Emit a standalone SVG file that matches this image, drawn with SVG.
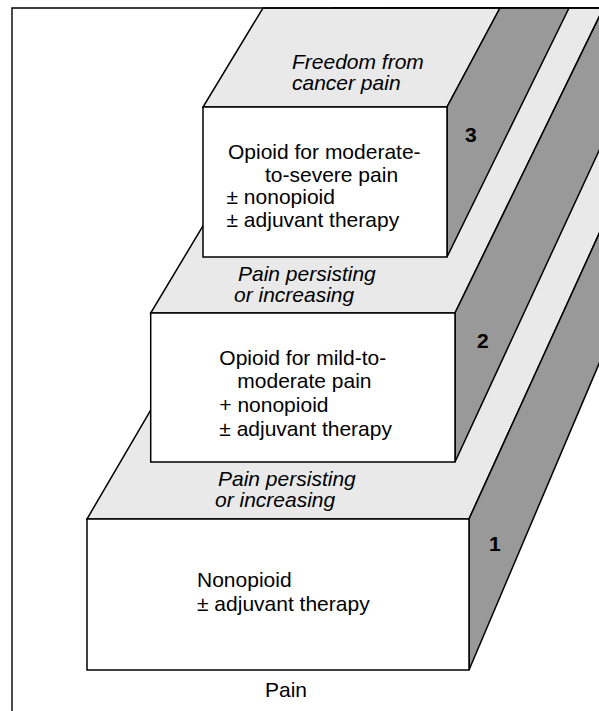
<svg xmlns="http://www.w3.org/2000/svg" width="599" height="711" viewBox="0 0 599 711">
<style>
.top{fill:#e9e9e9;stroke:#000;stroke-width:1.5;stroke-linejoin:miter}
.side{fill:#999;stroke:#000;stroke-width:1.5;stroke-linejoin:miter}
.front{fill:#fff;stroke:#000;stroke-width:1.5}
text{font-family:"Liberation Sans",Arial,Helvetica,sans-serif;font-size:21px;fill:#000}
.it{font-style:italic}
.num{font-weight:bold}
</style>
<rect x="0" y="0" width="599" height="711" fill="#fff"/>
<g id="step1">
<polygon class="top" points="87,519 469,519 702,8 386,8"/>
<polygon class="side" points="469,519 469,670 750,8 702,8"/>
<rect class="front" x="87" y="519" width="382" height="151"/>
<text class="it" x="218" y="486">Pain persisting</text>
<text class="it" x="215" y="507">or increasing</text>
<text x="197" y="587">Nonopioid</text>
<text x="197" y="611">± adjuvant therapy</text>
<text class="num" x="489" y="551">1</text>
</g>
<g id="step2">
<polygon class="top" points="150.7,313 455,313 603.5,8 333.7,8"/>
<polygon class="side" points="455,313 455,462 665,8 603.5,8"/>
<rect class="front" x="150.7" y="313" width="304.3" height="149"/>
<text class="it" x="238" y="281">Pain persisting</text>
<text class="it" x="234" y="302">or increasing</text>
<text x="219.3" y="365">Opioid for mild-to-</text>
<text x="237.3" y="388">moderate pain</text>
<text x="219.3" y="412">+ nonopioid</text>
<text x="219.3" y="436">± adjuvant therapy</text>
<text class="num" x="477" y="348">2</text>
</g>
<g id="step3">
<polygon class="top" points="203,107 447,107 500,8 263,8"/>
<polygon class="side" points="447,107 447,257 569,8 500,8"/>
<rect class="front" x="203" y="107" width="244" height="150"/>
<text class="it" x="292" y="69">Freedom from</text>
<text class="it" x="292" y="90">cancer pain</text>
<text x="228" y="159">Opioid for moderate-</text>
<text x="265" y="181.5">to-severe pain</text>
<text x="226.5" y="204">± nonopioid</text>
<text x="226.5" y="226.5">± adjuvant therapy</text>
<text class="num" x="465" y="142">3</text>
</g>
<g id="pain-label">
<text x="265" y="697">Pain</text>
</g>
<g id="connectors"/>
<g id="frame">
<path d="M12,711 V8 H600" fill="none" stroke="#000" stroke-width="1.4"/>
</g>
</svg>
